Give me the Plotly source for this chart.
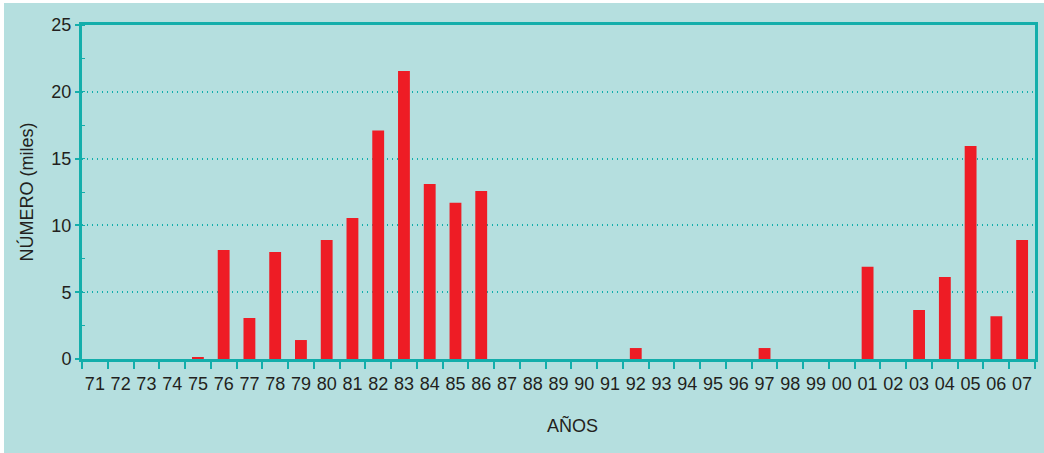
import plotly.graph_objects as go

years = ["71","72","73","74","75","76","77","78","79","80","81","82","83","84","85","86",
         "87","88","89","90","91","92","93","94","95","96","97","98","99","00","01","02",
         "03","04","05","06","07"]
values = [0,0,0,0,0.15,8.15,3.07,8.0,1.42,8.9,10.55,17.1,21.55,13.1,11.7,12.57,
          0,0,0,0,0,0.82,0,0,0,0,0.82,0,0,0,6.9,0,
          3.67,6.14,15.95,3.2,8.9]
y_ticks = [0, 5, 10, 15, 20, 25]

TEAL_BG = "#b5dfdf"
TEAL = "#14aeab"
RED = "#ee1c25"
TXT = "#231f20"

W, H = 1044, 453
L, R, T, B = 82, 9, 25, 94
pw, ph = W - L - R, H - T - B

fig = go.Figure()
fig.add_trace(go.Bar(x=years, y=values, marker=dict(color=RED, line=dict(width=0)),
                     width=0.46, hoverinfo="x+y"))

fig.add_shape(type="rect", xref="paper", yref="paper", layer="below",
              x0=-(L - 4) / pw, x1=1 + (R + 2) / pw,
              y0=-(B + 2) / ph, y1=1 + (T - 3) / ph,
              fillcolor=TEAL_BG, line=dict(width=0))

fig.add_annotation(text="AÑOS", xref="paper", yref="paper",
                   x=(572 - L) / pw, y=-(425 - (T + ph)) / ph,
                   xanchor="center", yanchor="middle", showarrow=False,
                   font=dict(size=18, color=TXT))

fig.update_layout(
    width=W, height=H,
    margin=dict(l=L, r=R, t=T, b=B),
    paper_bgcolor="white",
    plot_bgcolor="rgba(0,0,0,0)",
    showlegend=False,
    bargap=0.54,
    font=dict(family="Liberation Sans, Arial, sans-serif", color=TXT),
)
fig.update_xaxes(
    type="category", tickson="boundaries", automargin=False,
    ticks="outside", ticklen=7, tickwidth=2, tickcolor=TEAL,
    showline=True, linecolor=TEAL, linewidth=3, mirror=True,
    showgrid=False, tickangle=0, ticklabelstandoff=6,
    tickfont=dict(size=18, color=TXT),
)
fig.update_yaxes(
    range=[0, 25], tickvals=y_ticks, automargin=False,
    ticks="outside", ticklen=4, tickwidth=2, tickcolor=TEAL,
    minor=dict(dtick=2.5, ticks="inside", ticklen=3, tickcolor=TEAL, tickwidth=1, showgrid=False),
    showline=True, linecolor=TEAL, linewidth=3, mirror=True,
    showgrid=True, gridcolor=TEAL, griddash="1px,4px", gridwidth=1.5,
    zeroline=False,
    tickfont=dict(size=18, color=TXT),
    title=dict(text="NÚMERO (miles)", font=dict(size=18, color=TXT), standoff=14),
)

fig.write_html("out.html", config={"displayModeBar": False},
               post_script="document.body.style.margin='0';document.body.style.overflow='hidden';")
